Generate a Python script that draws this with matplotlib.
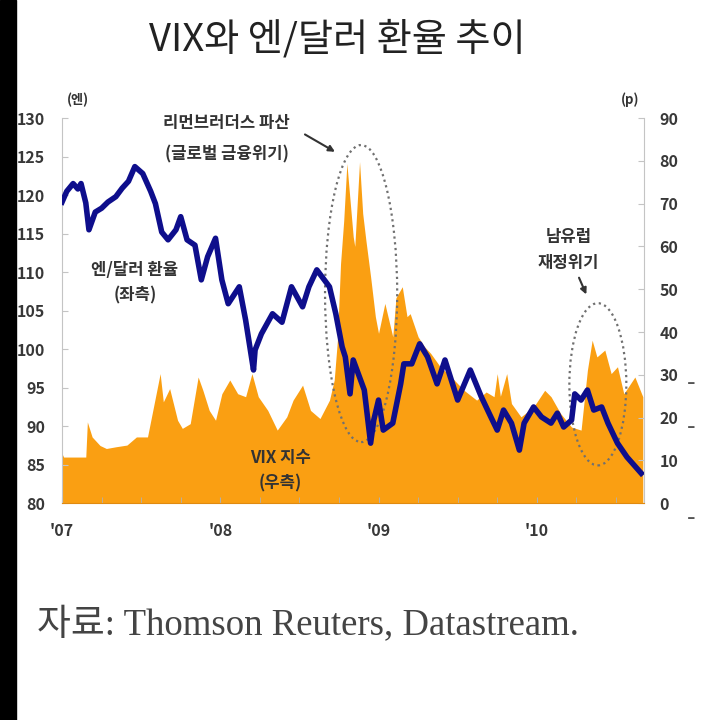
import matplotlib.pyplot as plt
from matplotlib.patches import Ellipse, Rectangle
from matplotlib.ticker import MultipleLocator

plt.rcParams['font.family'] = ['Noto Sans CJK KR', 'DejaVu Sans']

# 엔/달러 환율 (좌축, 엔) - 연도 소수 표기
yen_t = [2007.00, 2007.03, 2007.07, 2007.10, 2007.12, 2007.15, 2007.17, 2007.21, 2007.25,
         2007.29, 2007.34, 2007.38, 2007.42, 2007.46, 2007.51, 2007.56, 2007.59, 2007.63,
         2007.67, 2007.72, 2007.75, 2007.79, 2007.84, 2007.88, 2007.92, 2007.97, 2008.01,
         2008.05, 2008.12, 2008.16, 2008.21, 2008.22, 2008.26, 2008.33, 2008.39, 2008.45,
         2008.52, 2008.56, 2008.61, 2008.69, 2008.73, 2008.77, 2008.79, 2008.82, 2008.84,
         2008.91, 2008.95, 2008.97, 2009.00, 2009.03, 2009.09, 2009.14, 2009.16, 2009.21,
         2009.26, 2009.31, 2009.37, 2009.42, 2009.50, 2009.58, 2009.65, 2009.71, 2009.75,
         2009.79, 2009.84, 2009.89, 2009.92, 2009.98, 2010.03, 2010.09, 2010.13, 2010.17,
         2010.22, 2010.24, 2010.28, 2010.32, 2010.36, 2010.41, 2010.45, 2010.51, 2010.57,
         2010.66]
yen = [119.1, 120.5, 121.5, 120.8, 121.5, 119.0, 115.5, 117.8, 118.3,
       119.1, 119.8, 120.9, 121.8, 123.7, 122.8, 120.5, 118.9, 115.2,
       114.2, 115.5, 117.2, 114.2, 113.5, 109.0, 112.0, 114.4, 109.0,
       105.9, 108.1, 103.8, 97.3, 99.9, 102.0, 104.6, 103.5, 108.1,
       105.5, 108.1, 110.3, 108.1, 104.6, 100.3, 99.0, 94.2, 98.6,
       94.7, 87.8, 90.8, 93.4, 89.5, 90.4, 95.5, 98.1, 98.1,
       100.7, 99.0, 95.5, 98.6, 93.4, 97.3, 93.8, 91.2, 89.5,
       92.1, 90.4, 86.9, 90.4, 92.5, 91.2, 90.4, 91.7, 89.9,
       90.8, 94.2, 93.4, 94.7, 92.1, 92.5, 90.4, 87.8, 86.0,
       83.9]

# VIX 지수 (우축, p)
vix_t = [2007.00, 2007.01, 2007.08, 2007.15, 2007.16, 2007.19, 2007.24, 2007.28, 2007.34,
         2007.41, 2007.47, 2007.54, 2007.58, 2007.62, 2007.64, 2007.68, 2007.73, 2007.76,
         2007.81, 2007.86, 2007.89, 2007.93, 2007.97, 2008.01, 2008.06, 2008.11, 2008.16,
         2008.20, 2008.24, 2008.30, 2008.36, 2008.42, 2008.46, 2008.52, 2008.57, 2008.63,
         2008.69, 2008.72, 2008.74, 2008.76, 2008.78, 2008.80, 2008.82, 2008.84, 2008.85,
         2008.88, 2008.90, 2008.92, 2008.95, 2008.98, 2009.00, 2009.04, 2009.09, 2009.11,
         2009.15, 2009.18, 2009.20, 2009.25, 2009.29, 2009.33, 2009.39, 2009.46, 2009.54,
         2009.62, 2009.68, 2009.73, 2009.75, 2009.77, 2009.81, 2009.84, 2009.90, 2009.98,
         2010.05, 2010.09, 2010.15, 2010.22, 2010.28, 2010.32, 2010.35, 2010.38, 2010.43,
         2010.47, 2010.51, 2010.55, 2010.62, 2010.67]
vix = [11.6, 10.8, 10.8, 10.8, 19.0, 15.5, 13.5, 12.8, 13.2,
       13.6, 15.5, 15.5, 22.9, 30.3, 23.7, 26.8, 19.4, 17.5,
       18.6, 29.5, 26.4, 21.7, 19.4, 25.6, 28.8, 25.6, 24.9,
       30.3, 24.9, 21.7, 17.1, 20.2, 24.1, 27.6, 21.7, 19.8,
       24.1, 28.8, 38.0, 56.0, 66.0, 79.4, 70.8, 62.3, 60.0,
       79.8, 67.7, 61.5, 52.9, 43.6, 39.7, 46.7, 38.9, 48.0,
       50.6, 43.6, 44.3, 38.9, 36.6, 35.0, 31.9, 29.5, 26.4,
       24.1, 26.0, 24.9, 30.3, 25.0, 30.3, 23.3, 20.2, 22.5,
       26.4, 24.9, 21.0, 17.8, 17.1, 31.1, 38.1, 34.2, 35.8,
       30.3, 31.9, 25.6, 29.5, 24.9]

year_ticks = [2007, 2008, 2009, 2010]
year_labels = ["'07", "'08", "'09", "'10"]

fig = plt.figure(figsize=(7.05, 7.2), dpi=100)
ax1 = fig.add_axes([0.088, 0.301, 0.826, 0.535])
ax2 = ax1.twinx()
ax1.set_zorder(ax2.get_zorder() + 1)
ax1.patch.set_visible(False)

ax2.fill_between(vix_t, vix, 0, color='#FA9F12', lw=0, zorder=1)
ax1.plot(yen_t, yen, color='#0E0E8C', lw=4.0, solid_joinstyle='round', zorder=3)

ax1.set_xlim(2007.0, 2010.68)
ax1.set_ylim(80, 130)
ax2.set_ylim(0, 90)
ax1.set_yticks(range(80, 131, 5))
ax2.set_yticks(range(0, 91, 10))
ax1.set_xticks(year_ticks, year_labels)
ax1.xaxis.set_minor_locator(MultipleLocator(0.25))

grey = '#C4C4C4'
for ax in (ax1, ax2):
    for s in ax.spines.values():
        s.set_visible(False)
ax1.spines['left'].set_visible(True)
ax1.spines['left'].set_color(grey)
ax1.spines['bottom'].set_visible(True)
ax1.spines['bottom'].set_color('#E08A10')
ax2.spines['right'].set_visible(True)
ax2.spines['right'].set_color(grey)

ax1.tick_params(axis='y', direction='in', length=4, color=grey, labelsize=11.5,
                labelcolor='#383838', pad=12)
ax2.tick_params(axis='y', direction='in', length=4, color=grey, labelsize=11.5,
                labelcolor='#383838', pad=11)
ax1.tick_params(axis='x', which='both', direction='in', length=4, color='#B0B0B0',
                labelsize=11.5, labelcolor='#383838', pad=14)
for lab in ax1.get_yticklabels() + ax2.get_yticklabels() + ax1.get_xticklabels():
    lab.set_fontweight('bold')

# 점선 타원 (리먼 파산, 남유럽 재정위기)
ax2.add_patch(Ellipse((2008.89, 49.0), 0.456, 69.4, fill=False, ec='#707070',
                      lw=1.6, ls=(0, (1, 1.6)), zorder=2))
ax2.add_patch(Ellipse((2010.386, 27.8), 0.36, 37.9, fill=False, ec='#707070',
                      lw=1.6, ls=(0, (1, 1.6)), zorder=2))

tk = dict(ha='center', va='center', fontsize=12, fontweight='bold', color='#333333')
ax2.text(2008.04, 88.8, '리먼브러더스 파산', **tk)
ax2.text(2008.04, 81.4, '(글로벌 금융위기)', **tk)
ax2.annotate('', xy=(2008.74, 81.8), xytext=(2008.52, 86.5),
             arrowprops=dict(arrowstyle='-|>', color='#333333', lw=1.5, mutation_scale=9))
ax2.text(2010.20, 62.2, '남유럽', **tk)
ax2.text(2010.20, 56.1, '재정위기', **tk)
ax2.annotate('', xy=(2010.32, 48.2), xytext=(2010.26, 53.3),
             arrowprops=dict(arrowstyle='-|>', color='#333333', lw=1.5, mutation_scale=9))
ax2.text(2008.38, 10.5, 'VIX 지수', **tk)
ax2.text(2008.38, 4.7, '(우측)', **tk)
ax1.text(2007.46, 110.3, '엔/달러 환율', **tk)
ax1.text(2007.46, 107.0, '(좌측)', **tk)

fig.text(0.111, 0.861, '(엔)', ha='center', va='center', fontsize=9.5,
         fontweight='bold', color='#333333')
fig.text(0.894, 0.861, '(p)', ha='center', va='center', fontsize=9.5,
         fontweight='bold', color='#333333')

fig.text(0.479, 0.944, 'VIX와 엔/달러 환율 추이', ha='center', va='center',
         fontsize=27.5, color='#222222')
fig.text(0.052, 0.132, '자료: Thomson Reuters, Datastream.', ha='left', va='center',
         fontsize=26.5, color='#444444', family=['Liberation Serif', 'Noto Sans CJK KR'])

# 왼쪽 검은 여백과 오른쪽 가장자리 표시
fig.add_artist(Rectangle((0, 0), 16 / 705, 1, transform=fig.transFigure,
                         color='black', zorder=0))
for yy in [0.468, 0.407, 0.281]:
    fig.text(0.975, yy, '-', ha='left', va='center', fontsize=18, color='#555555')

fig.savefig('out.png', dpi=100)
